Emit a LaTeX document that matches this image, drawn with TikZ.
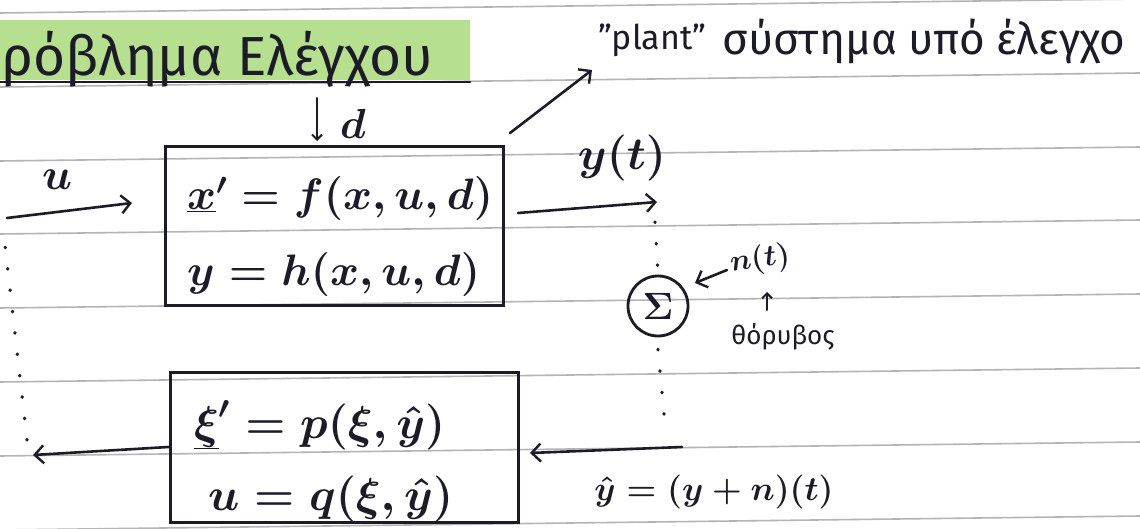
\RequirePackage{fix-cm}
\documentclass[tikz,border=0pt]{standalone}
\usepackage{fontspec}
\setmainfont{Fira Sans}
\usetikzlibrary{arrows.meta}
\definecolor{ink}{HTML}{1C1C28}
\definecolor{rulecol}{HTML}{B4B4B4}
\definecolor{hl}{HTML}{9ED66A}
\begin{document}
\begin{tikzpicture}[x=1pt,y=-1pt,
  inkline/.style={draw=ink, line width=2.6pt, line cap=round},
  arr/.style={inkline, -{Straight Barb[length=9pt,width=18pt,line width=2.4pt]}},
  smallarr/.style={inkline, line width=2pt, -{Straight Barb[length=5pt,width=10pt,line width=2pt]}},
  dots/.style={draw=ink, line width=3.4pt, line cap=round, dash pattern=on 0.5pt off 21pt},
  box/.style={draw=ink, line width=3pt, inner sep=0pt},
  lbl/.style={text=ink, inner sep=0pt},
  mfont/.style={font=\fontsize{#1}{#1}\selectfont\boldmath},
]
\useasboundingbox (0,0) rectangle (1140,529);
\fill[white] (0,0) rectangle (1140,529);
% ruled paper
\foreach \c in {6,80,154,227,301,375,449,523}
  \draw[rulecol, line width=1.6pt] (0,\c+7) -- (1140,\c-7);
% highlighted title
\fill[hl, opacity=0.75] (0,20) rectangle (470,80);
\node[lbl, anchor=base west, font=\fontsize{55}{58}\selectfont] (title) at (1,76) {ρόβλημα Ελέγχου};
\coordinate (ulA) at (0,82);
\coordinate (ulB) at (470,82);
\draw[inkline] (ulA) -- (ulB);

% plant
\node[box, minimum width=338pt, minimum height=158pt] (plant) at (334,226) {};
\node[lbl, mfont=44, anchor=base west] (eqa) at (187,210) {$\underline{x}' = f(x,u,d)$};
\node[lbl, mfont=44, anchor=base west] (eqb) at (187,286) {$y = h(x,u,d)$};

% controller
\node[box, minimum width=348pt, minimum height=150pt] (ctrl) at (344,447) {};
\node[lbl, mfont=46, anchor=base west] (eqc) at (194,438) {$\underline{\xi}' = p(\xi,\hat{y})$};
\node[lbl, mfont=46, anchor=base west] (eqd) at (208,510) {$u = q(\xi,\hat{y})$};

% summation
\node[draw=ink, line width=2.8pt, circle, minimum size=60pt, inner sep=0pt,
      mfont=38, text=ink] (sum) at (658,306) {$\Sigma$};

% input u
\coordinate (uS) at (7,218);
\coordinate (uE) at (132,203);
\draw[arr] (uS) -- (uE);
\node[lbl, mfont=44] (ulab) at (57,180) {$u$};

% disturbance d
\coordinate (dS) at (317,98);
\coordinate (dE) at (317,141);
\draw[smallarr] (dS) -- (dE);
\node[lbl, mfont=42] (dlab) at (353,124) {$d$};

% output y(t)
\coordinate (yS) at (518,213);
\coordinate (yE) at (657,202);
\draw[arr] (yS) -- (yE);
\node[lbl, mfont=46] (ylab) at (622,158) {$y(t)$};

% dotted path through the sum
\coordinate (dA) at (655,222);
\draw[dots] (dA) -- (sum.north);
\coordinate (dB) at (665,425);
\draw[dots] ([yshift=-12pt]sum.south) -- (dB);

% noise
\coordinate (nS) at (727,270);
\coordinate (nE) at (695,283);
\draw[arr] (nS) -- (nE);
\node[lbl, mfont=30, rotate=8] (nlab) at (760,260) {$n(t)$};
\coordinate (tS) at (767,310);
\coordinate (tE) at (767,292);
\draw[smallarr] (tS) -- (tE);
\node[lbl, font=\fontsize{26}{28}\selectfont] (noise) at (783,337) {θόρυβος};

% measured output into controller
\coordinate (fbS) at (682,447);
\coordinate (fbE) at (530,453);
\draw[arr] (fbS) -- (fbE);
\node[lbl, mfont=34] (yhat) at (714,492) {$\hat{y} = (y+n)(t)$};

% controller output u
\coordinate (oE) at (33,455);
\draw[arr] (ctrl.west) -- (oE);

% left dotted return
\coordinate (lA) at (27,440);
\coordinate (lB) at (3,227);
\draw[dots] (lA) -- (lB);

% plant annotation
\coordinate (pS) at (510,133);
\coordinate (pE) at (592,70);
\draw[arr] (pS) -- (pE);
\node[lbl, font=\fontsize{34}{36}\selectfont] (plantlab) at (652,40) {\char34 plant\char34};
\node[lbl, font=\fontsize{44}{48}\selectfont, anchor=west] (plantdesc) at (722,42) {σύστημα υπό έλεγχο};
\end{tikzpicture}
\end{document}
